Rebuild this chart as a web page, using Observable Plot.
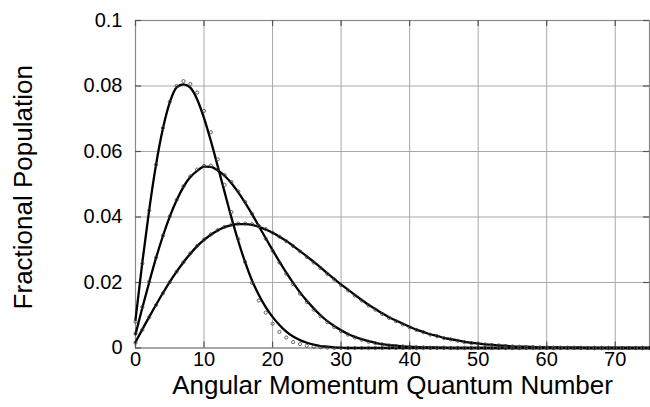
<!DOCTYPE html>
<html>
<head>
<meta charset="utf-8">
<script src="https://cdn.jsdelivr.net/npm/d3@7"></script>
<script src="https://cdn.jsdelivr.net/npm/@observablehq/plot@0.6"></script>
<style>
  html, body { margin: 0; padding: 0; background: #fff; }
  #chart svg { display: block; }
</style>
</head>
<body>
<div id="chart"></div>
<script>
// Angular momentum quantum number J
const J = [0,1,2,3,4,5,6,7,8,9,10,11,12,13,14,15,16,17,18,19,20,21,22,23,24,25,26,27,28,29,30,31,32,33,34,35,36,37,38,39,40,41,42,43,44,45,46,47,48,49,50,51,52,53,54,55,56,57,58,59,60,61,62,63,64,65,66,67,68,69,70,71,72,73,74,75];

// Fitted curves (solid lines)
const fitA = [0.0086,0.0262,0.0422,0.0560,0.0670,0.0750,0.0796,0.0805,0.0795,0.0759,0.0702,0.0632,0.0555,0.0476,0.0398,0.0326,0.0262,0.0206,0.0162,0.0125,0.0095,0.0070,0.0050,0.0035,0.0024,0.0016,0.0010,0.0006,0.0004,0.0002,0.0001,0,0,0,0,0,0,0,0,0,0,0,0,0,0,0,0,0,0,0,0,0,0,0,0,0,0,0,0,0,0,0,0,0,0,0,0,0,0,0,0,0,0,0,0,0];
const fitB = [0.0042,0.0123,0.0201,0.0275,0.0342,0.0401,0.0451,0.0492,0.0522,0.0541,0.0554,0.0553,0.0542,0.0526,0.0503,0.0475,0.0443,0.0409,0.0372,0.0335,0.0299,0.0264,0.0230,0.0199,0.0170,0.0144,0.0121,0.0100,0.0082,0.0067,0.0054,0.0043,0.0034,0.0027,0.0021,0.0016,0.0012,0.0009,0.0007,0.0005,0.0004,0.0003,0.0002,0.0002,0.0001,0.0001,0,0,0,0,0,0,0,0,0,0,0,0,0,0,0,0,0,0,0,0,0,0,0,0,0,0,0,0,0,0];
const fitC = [0.0018,0.0057,0.0095,0.0132,0.0168,0.0202,0.0233,0.0262,0.0288,0.0311,0.0330,0.0346,0.0359,0.0369,0.0375,0.0378,0.0378,0.0376,0.0370,0.0362,0.0352,0.0340,0.0327,0.0312,0.0296,0.0280,0.0263,0.0246,0.0228,0.0211,0.0194,0.0178,0.0162,0.0147,0.0132,0.0119,0.0106,0.0094,0.0084,0.0074,0.0065,0.0056,0.0049,0.0042,0.0037,0.0031,0.0027,0.0023,0.0019,0.0016,0.0014,0.0011,0.0010,0.0008,0.0007,0.0005,0.0004,0.0004,0.0003,0.0002,0.0002,0.0002,0.0001,0.0001,0.0001,0.0001,0,0,0,0,0,0,0,0,0,0];

// Measured populations (open circles)
const ptsA = [0.0080,0.0258,0.0420,0.0560,0.0672,0.0752,0.0800,0.0815,0.0806,0.0780,0.0724,0.0659,0.0576,0.0498,0.0415,0.0333,0.0262,0.0199,0.0145,0.0108,0.0074,0.0049,0.0032,0.0018,0.0012,0.0007,0.0004,0.0002,0.0001,0,0,0,0,0,0,0,0,0,0,0,0,0,0,0,0,0,0,0,0,0,0,0,0,0,0,0,0,0,0,0,0,0,0,0,0,0,0,0,0,0,0,0,0,0,0,0];
const ptsB = [0.0044,0.0125,0.0203,0.0276,0.0343,0.0402,0.0452,0.0494,0.0524,0.0545,0.0556,0.0557,0.0546,0.0528,0.0507,0.0478,0.0446,0.0410,0.0372,0.0334,0.0297,0.0261,0.0227,0.0195,0.0166,0.0140,0.0117,0.0097,0.0079,0.0064,0.0051,0.0041,0.0032,0.0025,0.0019,0.0015,0.0011,0.0008,0.0006,0.0005,0.0003,0.0002,0.0002,0.0001,0.0001,0.0001,0,0,0,0,0,0,0,0,0,0,0,0,0,0,0,0,0,0,0,0,0,0,0,0,0,0,0,0,0,0];
const ptsC = [0.0016,0.0056,0.0094,0.0131,0.0167,0.0201,0.0233,0.0262,0.0289,0.0312,0.0331,0.0347,0.0360,0.0370,0.0377,0.0380,0.0380,0.0378,0.0372,0.0363,0.0352,0.0340,0.0326,0.0311,0.0295,0.0278,0.0261,0.0244,0.0226,0.0209,0.0192,0.0176,0.0160,0.0145,0.0130,0.0117,0.0104,0.0092,0.0082,0.0072,0.0063,0.0055,0.0048,0.0041,0.0036,0.0030,0.0026,0.0022,0.0018,0.0015,0.0013,0.0011,0.0009,0.0008,0.0006,0.0005,0.0004,0.0003,0.0003,0.0002,0.0002,0.0001,0.0001,0.0001,0.0001,0.0001,0,0,0,0,0,0,0,0,0,0];

const xTicks = [0,10,20,30,40,50,60,70];
const xTickLabels = ["0","10","20","30","40","50","60","70"];
const yTicks = [0,0.02,0.04,0.06,0.08,0.1];
const yTickLabels = ["0","0.02","0.04","0.06","0.08","0.1"];
const xLabel = "Angular Momentum Quantum Number";
const yLabel = "Fractional Population";

const series = [["A", fitA, ptsA], ["B", fitB, ptsB], ["C", fitC, ptsC]];
const fitRows = series.flatMap(([s, f]) => J.map((j, i) => ({J: j, v: f[i], s})));
const ptRows = series.flatMap(([s, , p]) => J.map((j, i) => ({J: j, v: p[i], s})));

const xLab = new Map(xTicks.map((t, i) => [t, xTickLabels[i]]));
const yLab = new Map(yTicks.map((t, i) => [t, yTickLabels[i]]));

const W = 650, H = 407, mL = 135, mR = 1, mT = 20, mB = 59.5;
const fw = W - mL - mR, fh = H - mT - mB, tl = 6;

const chart = Plot.plot({
  width: W,
  height: H,
  marginLeft: mL,
  marginRight: mR,
  marginTop: mT,
  marginBottom: mB,
  style: {fontFamily: "'Liberation Sans', Arial, Helvetica, sans-serif", background: "#fff", color: "#000", overflow: "visible"},
  x: {domain: [0, 75]},
  y: {domain: [0, 0.1]},
  marks: [
    Plot.gridX(xTicks, {stroke: "#a8a8a8", strokeOpacity: 1, strokeWidth: 1}),
    Plot.gridY(yTicks, {stroke: "#a8a8a8", strokeOpacity: 1, strokeWidth: 1}),
    Plot.frame({stroke: "#8a8a8a", strokeWidth: 1.2}),
    // inward ticks
    Plot.tickY(yTicks, {y: d => d, insetRight: fw - tl, stroke: "#555", strokeWidth: 1.2}),
    Plot.tickY(yTicks, {y: d => d, insetLeft: fw - tl, stroke: "#555", strokeWidth: 1.2}),
    Plot.tickX(xTicks, {x: d => d, insetTop: fh - tl, stroke: "#555", strokeWidth: 1.2}),
    Plot.tickX(xTicks, {x: d => d, insetBottom: fh - tl, stroke: "#555", strokeWidth: 1.2}),
    Plot.axisX({ticks: xTicks, tickFormat: d => xLab.get(d), tickSize: 0, tickPadding: 4, fontSize: 20, label: null}),
    Plot.axisY({ticks: yTicks, tickFormat: d => yLab.get(d), tickSize: 0, tickPadding: 13, fontSize: 20, label: null}),
    Plot.line(fitRows, {x: "J", y: "v", z: "s", curve: "monotone-x", stroke: "#000", strokeWidth: 2.3}),
    Plot.dot(ptRows, {x: "J", y: "v", r: 1.6, stroke: "#444", strokeWidth: 0.8, fill: "none"}),
    Plot.text([xLabel], {text: d => d, frameAnchor: "bottom", textAnchor: "middle", lineAnchor: "middle", dy: 38, fontSize: 26, fill: "#000"}),
    Plot.text([yLabel], {text: d => d, frameAnchor: "left", textAnchor: "middle", lineAnchor: "middle", rotate: -90, dx: -112, dy: 3, fontSize: 26, fill: "#000"})
  ]
});
document.getElementById("chart").appendChild(chart);
</script>
</body>
</html>
